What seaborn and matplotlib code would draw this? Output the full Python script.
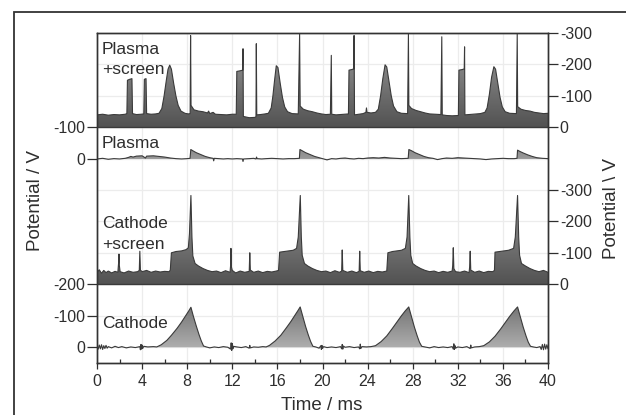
import numpy as np
import matplotlib
matplotlib.use("Agg")
import matplotlib.pyplot as plt
import seaborn as sns
from matplotlib.colors import LinearSegmentedColormap
from matplotlib.patches import Rectangle, Polygon

sns.set_style("ticks")
plt.rcParams["font.family"] = ["Liberation Sans", "DejaVu Sans"]

# ---------------- data (time in ms, potential magnitude in V) ----------------
cathode = [
    (0.0, 4), (0.1, -6), (0.2, 7), (0.3, -5), (0.4, 8), (0.5, -7), (0.6, 5), (0.7, -4), (0.8, 6), (0.9, -3),
    (1.0, 2), (1.3, -2), (1.6, 3), (1.9, -1), (2.2, 2), (2.6, -2), (3.0, 1), (3.4, -1), (3.8, 2), (3.85, -8),
    (3.9, 9), (3.95, -6), (4.0, 7), (4.05, -4), (4.15, 3), (4.5, 1), (5.0, 2), (5.3, 1), (5.7, 8), (6.2, 22),
    (6.6, 38), (7.1, 60), (7.5, 80), (7.9, 102), (8.15, 116), (8.33, 127), (8.55, 98), (8.8, 68), (9.05, 40),
    (9.25, 20), (9.45, 4), (9.7, 1), (10.0, -2), (10.4, 1), (10.8, -1), (11.2, 2), (11.6, 0), (11.85, -6),
    (11.9, 14), (11.95, -10), (12.0, 12), (12.05, -5), (12.1, 3), (12.4, 1), (12.8, -1), (13.2, 2), (13.5, -3),
    (13.55, 6), (13.6, -2), (13.9, 1), (14.3, 0), (14.7, 2), (15.0, 1), (15.3, 6), (15.8, 20), (16.3, 38),
    (16.8, 62), (17.2, 82), (17.6, 104), (17.85, 118), (18.02, 128), (18.25, 98), (18.5, 66), (18.75, 38),
    (18.95, 18), (19.15, 3), (19.4, 1), (19.7, -3), (19.85, 5), (19.9, -7), (19.95, 6), (20.0, -4), (20.1, 2),
    (20.4, -1), (20.8, 1), (21.2, -1), (21.6, 2), (21.7, -5), (21.75, 9), (21.8, -6), (21.85, 4), (22.0, 0),
    (22.4, 2), (22.8, -1), (23.2, 1), (23.3, -5), (23.35, 10), (23.4, -4), (23.5, 2), (23.9, 1), (24.3, 2),
    (24.7, 5), (25.2, 18), (25.7, 36), (26.2, 60), (26.6, 80), (27.0, 100), (27.35, 116), (27.65, 128),
    (27.9, 96), (28.15, 64), (28.4, 36), (28.6, 16), (28.8, 3), (29.1, 1), (29.5, -2), (29.9, 2), (30.3, -1),
    (30.7, 1), (31.1, -1), (31.5, 2), (31.6, -6), (31.65, 11), (31.7, -7), (31.75, 5), (31.8, -3), (32.0, 1),
    (32.4, -1), (32.8, 2), (33.1, -4), (33.15, 7), (33.2, -2), (33.5, 1), (33.9, 2), (34.3, 5), (34.8, 17),
    (35.3, 35), (35.8, 58), (36.2, 78), (36.6, 98), (37.0, 116), (37.3, 128), (37.55, 96), (37.8, 64),
    (38.05, 36), (38.25, 16), (38.45, 3), (38.7, 1), (39.0, -1), (39.3, 2), (39.4, -7), (39.5, 9), (39.6, -8),
    (39.7, 10), (39.8, -6), (39.9, 8), (40.0, -5),
]

cathode_screen = [
    (0.0, 38), (0.2, 46), (0.4, 35), (0.6, 44), (0.8, 37), (1.0, 42), (1.3, 36), (1.6, 41), (1.85, 38),
    (1.92, 70), (1.95, 96), (1.98, 60), (2.05, 40), (2.4, 36), (2.8, 42), (3.2, 38), (3.6, 40), (3.75, 44),
    (3.8, 105), (3.85, 45), (4.0, 40), (4.4, 44), (4.8, 38), (5.2, 42), (5.6, 39), (6.0, 41), (6.4, 40),
    (6.5, 45), (6.6, 100), (7.0, 104), (7.5, 106), (7.9, 110), (8.1, 116), (8.2, 160), (8.33, 282),
    (8.42, 150), (8.5, 90), (8.7, 66), (9.0, 58), (9.4, 50), (9.8, 44), (10.2, 40), (10.6, 42), (11.0, 37),
    (11.4, 43), (11.8, 38), (11.85, 60), (11.88, 114), (11.92, 55), (12.0, 44), (12.3, 36), (12.7, 42),
    (13.1, 38), (13.5, 41), (13.55, 100), (13.6, 45), (13.9, 38), (14.3, 42), (14.7, 37), (15.1, 41),
    (15.5, 39), (15.9, 42), (16.1, 44), (16.2, 102), (16.6, 104), (17.0, 106), (17.4, 108), (17.7, 114),
    (17.85, 150), (18.03, 282), (18.12, 150), (18.2, 92), (18.4, 66), (18.7, 58), (19.1, 50), (19.5, 44),
    (19.9, 40), (20.3, 42), (20.7, 37), (21.1, 43), (21.5, 38), (21.7, 42), (21.75, 109), (21.8, 44),
    (22.2, 38), (22.6, 42), (23.0, 37), (23.25, 41), (23.3, 105), (23.35, 43), (23.7, 38), (24.1, 42),
    (24.5, 37), (24.9, 41), (25.3, 39), (25.7, 42), (25.8, 100), (26.2, 104), (26.6, 106), (27.0, 108),
    (27.35, 114), (27.5, 150), (27.65, 282), (27.75, 150), (27.83, 92), (28.0, 66), (28.3, 58), (28.7, 50),
    (29.1, 44), (29.5, 40), (29.9, 42), (30.3, 37), (30.7, 41), (31.1, 38), (31.5, 42), (31.55, 60),
    (31.6, 116), (31.65, 50), (31.8, 40), (32.2, 38), (32.6, 42), (33.0, 37), (33.05, 55), (33.1, 105),
    (33.15, 45), (33.5, 38), (33.9, 42), (34.3, 37), (34.7, 41), (35.1, 40), (35.25, 44), (35.3, 102),
    (35.7, 104), (36.1, 106), (36.5, 108), (36.95, 114), (37.1, 150), (37.3, 282), (37.4, 150), (37.48, 92),
    (37.65, 66), (38.0, 58), (38.4, 50), (38.8, 44), (39.2, 40), (39.6, 44), (40.0, 38),
]

plasma = [
    (0.0, 0), (0.5, 2), (1.0, -1), (1.5, 1), (2.0, 0), (2.5, 2), (2.8, 5), (3.0, 8), (3.2, 6), (3.5, 9),
    (4.0, 10), (4.3, 3), (4.4, 9), (5.0, 10), (5.5, 8), (6.0, 6), (6.5, 3), (7.0, 1), (7.5, 0), (8.0, 1),
    (8.25, 2), (8.32, 30), (8.5, 26), (8.8, 20), (9.2, 14), (9.6, 8), (10.0, 4), (10.3, 2), (10.35, -6),
    (10.4, 2), (10.8, 1), (11.2, 0), (11.6, 1), (12.0, 0), (12.4, 1), (12.9, 0), (12.95, -8), (13.0, 0),
    (13.5, 1), (13.9, 2), (14.1, 0), (14.15, 6), (14.2, 1), (14.6, 0), (15.0, 1), (15.5, 2), (16.0, 1),
    (16.5, 0), (17.0, 1), (17.5, 1), (17.95, 2), (18.0, 30), (18.2, 26), (18.5, 20), (18.9, 14), (19.3, 8),
    (19.7, 4), (20.0, 1), (20.4, -3), (20.8, 1), (21.2, 0), (21.6, 2), (22.0, 3), (22.4, 1), (22.8, 0),
    (23.2, 2), (23.6, 1), (24.0, 3), (24.5, 4), (25.0, 3), (25.5, 5), (26.0, 3), (26.5, 2), (27.0, 1),
    (27.6, 2), (27.66, 30), (27.9, 26), (28.2, 20), (28.6, 14), (29.0, 8), (29.4, 4), (29.8, 2), (30.2, -2),
    (30.6, 1), (31.0, 3), (31.5, 2), (32.0, 4), (32.5, 3), (33.0, 2), (33.5, 1), (34.0, 0), (34.5, -2),
    (35.0, 0), (35.5, 1), (36.0, 2), (36.5, 1), (37.0, 1), (37.25, 2), (37.3, 28), (37.5, 24), (37.8, 19),
    (38.2, 13), (38.6, 8), (39.0, 4), (39.5, 2), (40.0, 1),
]

plasma_screen = [
    (0.0, 40), (0.5, 42), (1.0, 39), (1.5, 41), (2.0, 40), (2.5, 42), (2.65, 44), (2.7, 150), (2.9, 153),
    (3.1, 155), (3.15, 44), (3.5, 41), (3.9, 42), (4.15, 43), (4.2, 153), (4.35, 155), (4.4, 44), (4.8, 42),
    (5.2, 43), (5.5, 45), (5.75, 60), (5.95, 100), (6.15, 150), (6.3, 185), (6.45, 198), (6.6, 185),
    (6.8, 140), (7.0, 100), (7.2, 70), (7.45, 52), (7.8, 45), (8.1, 43), (8.26, 44), (8.3, 292), (8.34, 70),
    (8.6, 56), (9.0, 52), (9.4, 50), (9.8, 46), (9.9, 52), (10.0, 44), (10.3, 48), (10.5, 42), (11.0, 41),
    (11.5, 40), (12.0, 42), (12.35, 42), (12.4, 178), (12.7, 180), (12.92, 182), (12.95, 250), (12.98, 35),
    (13.5, 31), (14.0, 32), (14.1, 34), (14.13, 266), (14.17, 40), (14.5, 41), (14.9, 43), (15.2, 45),
    (15.45, 62), (15.6, 100), (15.75, 150), (15.9, 196), (16.05, 190), (16.25, 140), (16.45, 95), (16.65, 65),
    (16.9, 50), (17.3, 44), (17.85, 43), (17.97, 297), (18.02, 68), (18.3, 58), (18.7, 53), (19.1, 50),
    (19.5, 46), (19.9, 43), (20.3, 41), (20.7, 42), (20.78, 229), (20.82, 42), (21.2, 40), (21.6, 41),
    (22.0, 42), (22.3, 43), (22.35, 182), (22.6, 184), (22.77, 186), (22.8, 292), (22.84, 40), (23.2, 42),
    (23.6, 44), (23.85, 48), (23.9, 62), (23.95, 48), (24.3, 46), (24.7, 48), (24.95, 58), (25.15, 100),
    (25.35, 155), (25.55, 199), (25.7, 192), (25.9, 145), (26.1, 100), (26.3, 68), (26.6, 50), (27.0, 45),
    (27.55, 44), (27.62, 297), (27.66, 70), (27.9, 60), (28.3, 54), (28.7, 50), (29.1, 46), (29.5, 43),
    (30.0, 42), (30.5, 41), (30.58, 288), (30.62, 40), (31.0, 38), (31.5, 37), (32.05, 38), (32.1, 182),
    (32.4, 184), (32.57, 186), (32.6, 256), (32.63, 40), (33.0, 41), (33.5, 42), (34.0, 44), (34.4, 48),
    (34.6, 62), (34.8, 105), (35.0, 160), (35.2, 193), (35.35, 185), (35.55, 140), (35.75, 95), (35.95, 65),
    (36.2, 50), (36.6, 45), (37.2, 44), (37.27, 297), (37.31, 66), (37.6, 58), (38.0, 54), (38.4, 52),
    (38.8, 48), (39.2, 46), (39.6, 44), (40.0, 45),
]

# panel labels: list of text lines per trace
label_cathode = ["Cathode"]
label_cathode_screen = ["Cathode", "+screen"]
label_plasma = ["Plasma"]
label_plasma_screen = ["Plasma", "+screen"]
x_ticks = [0, 4, 8, 12, 16, 20, 24, 28, 32, 36, 40]
left_tick_labels = ["0", "-100", "-200", "0", "-100"]
right_tick_labels = ["0", "-100", "-200", "-300", "0", "-100", "-200", "-300"]

# ---------------- layout (stacked offsets in V units) ----------------
OFF_C, OFF_CS, OFF_P, OFF_PS = 50, 250, 648, 748
YTOP = 1048
left_tick_pos = [OFF_C, OFF_C + 100, OFF_C + 200, OFF_P, OFF_P + 100]
right_tick_pos = [OFF_CS, OFF_CS + 100, OFF_CS + 200, OFF_CS + 300,
                  OFF_PS, OFF_PS + 100, OFF_PS + 200, OFF_PS + 300]

W, H = 626, 415
fig = plt.figure(figsize=(W / 100, H / 100), dpi=100)
ax = fig.add_axes([97 / W, 52 / H, 451 / W, 330 / H])
ax.set_facecolor("white")

# faint grid
for xv in x_ticks[1:-1]:
    ax.axvline(xv, color="#ececec", lw=0.9, zorder=0)
for yv in sorted(set(left_tick_pos + right_tick_pos)):
    ax.axhline(yv, color="#ececec", lw=0.9, zorder=0)

line_col = "#3a3a3a"
grad = np.linspace(0, 1, 256).reshape(-1, 1)

def draw_trace(pairs, off, c_lo, c_hi, vmax, lw=0.8):
    t = np.array([p[0] for p in pairs], dtype=float)
    v = np.array([p[1] for p in pairs], dtype=float)
    y = off + v
    verts = list(zip(t, y)) + [(t[-1], off), (t[0], off)]
    poly = Polygon(verts, closed=True, facecolor="none", edgecolor="none",
                   transform=ax.transData)
    ax.add_patch(poly)
    cmap = LinearSegmentedColormap.from_list("g", [c_lo, c_hi])
    im = ax.imshow(grad, extent=[0, 40, off - 15, off + vmax], origin="lower",
                   aspect="auto", cmap=cmap, zorder=1, interpolation="bilinear")
    im.set_clip_path(poly)
    sns.lineplot(x=t, y=y, ax=ax, color=line_col, linewidth=lw,
                 estimator=None, sort=False, zorder=3)

draw_trace(cathode, OFF_C, "#b4b4b4", "#727272", 135)
draw_trace(cathode_screen, OFF_CS, "#4e4e4e", "#9c9c9c", 290)
draw_trace(plasma, OFF_P, "#a0a0a0", "#8a8a8a", 35)
draw_trace(plasma_screen, OFF_PS, "#4e4e4e", "#a0a0a0", 300)

ax.axhline(OFF_PS, color=line_col, lw=1.0, zorder=4)
ax.axhline(OFF_CS, color=line_col, lw=1.0, zorder=4)

ax.set_xlim(0, 40)
ax.set_ylim(0, YTOP)

txt_col = "#2e2e2e"
upp = YTOP / 330.0  # data units per pixel

def px_to_u(py):
    return (363 - py) * upp

x_lab = 0.42
def put_label(lines, baselines_px):
    for line, bpx in zip(lines, baselines_px):
        ax.text(x_lab, px_to_u(bpx), line, fontsize=12.5, color=txt_col,
                va="baseline", ha="left", zorder=5)

put_label(label_plasma_screen, [53.5, 74.5])
put_label(label_plasma, [148])
put_label(label_cathode_screen, [227.5, 248.5])
put_label(label_cathode, [328.5])

# axes / ticks
ax.set_xticks(x_ticks)
ax.set_xticklabels([str(v) for v in x_ticks])
ax.set_xticks(list(range(2, 40, 4)), minor=True)
ax.set_yticks(left_tick_pos)
ax.set_yticklabels(left_tick_labels)
ax.tick_params(axis="x", which="major", direction="out", length=4.5, width=0.9,
               pad=3.5, labelsize=11.5, colors=txt_col)
ax.tick_params(axis="x", which="minor", direction="in", length=3, width=0.9,
               colors=txt_col)
ax.tick_params(axis="y", which="both", direction="out", length=7, width=0.9,
               pad=1.5, labelsize=11.5, colors=txt_col)
ax.set_xlabel("")
ax.set_ylabel("")
for s in ax.spines.values():
    s.set_color("#333333")
    s.set_linewidth(1.0)
    s.set_visible(True)

ax2 = ax.twinx()
ax2.set_ylim(0, YTOP)
ax2.set_yticks(right_tick_pos)
ax2.set_yticklabels(right_tick_labels)
ax2.tick_params(axis="y", direction="out", length=7, width=0.9, pad=1.5,
                labelsize=11.5, colors=txt_col)
for s in ax2.spines.values():
    s.set_color("#333333")
    s.set_linewidth(1.0)

fig.text(322 / W, 1 - 410 / H, "Time / ms", fontsize=13.5, color=txt_col,
         ha="center", va="baseline")
fig.text(36 / W, 1 - 200 / H, "Potential / V", fontsize=13.5, color=txt_col,
         ha="center", va="center", rotation=90)
fig.text(612 / W, 1 - 208 / H, "Potential \\ V", fontsize=13.5, color=txt_col,
         ha="center", va="center", rotation=90)

fig.add_artist(Rectangle((14 / W, -0.05), 1.2, (1 - 12 / H) + 0.05,
                         transform=fig.transFigure, fill=False, lw=1.3,
                         ec="#333333", clip_on=False))

fig.savefig("out.png", dpi=100, facecolor="white")
